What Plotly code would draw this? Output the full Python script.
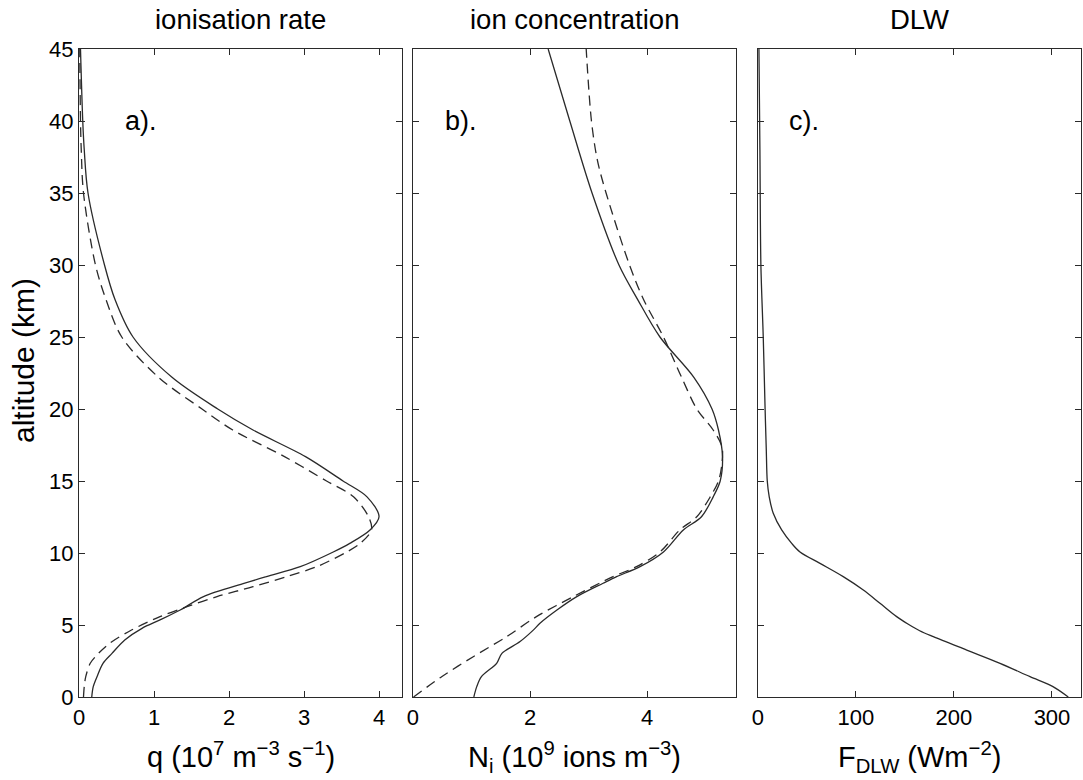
import plotly.graph_objects as go

# ---- Data ----
# Panel a: ionisation rate q (1e7 m^-3 s^-1)
alt_q_solid = [0, 0.72, 1.41, 2.34, 3.03, 3.96, 4.77, 5.35, 6.04, 6.97, 7.9, 8.36, 9.05, 10.07, 10.67, 11.6, 12.52, 13.9, 15.0, 16.69, 18.54, 20, 22.2, 25, 27.6, 30, 35, 38, 40, 45]
q_solid = [0.17, 0.19, 0.24, 0.32, 0.44, 0.61, 0.84, 1.08, 1.35, 1.66, 2.21, 2.50, 2.95, 3.39, 3.61, 3.88, 4.00, 3.84, 3.52, 3.02, 2.32, 1.85, 1.24, 0.72, 0.48, 0.34, 0.12, 0.07, 0.05, 0.02]

alt_q_dash = [0, 0.72, 1.41, 2.34, 3.03, 3.73, 4.65, 5.58, 6.27, 6.97, 7.66, 8.36, 9.05, 10.07, 10.67, 11.6, 12.52, 13.9, 15.0, 16.69, 18.54, 20, 22.2, 25, 27.6, 30, 35, 38, 40, 45]
q_dash = [0.06, 0.07, 0.09, 0.15, 0.26, 0.41, 0.70, 1.08, 1.44, 1.84, 2.32, 2.77, 3.17, 3.57, 3.75, 3.90, 3.86, 3.66, 3.30, 2.74, 2.05, 1.64, 1.06, 0.57, 0.36, 0.22, 0.06, 0.03, 0.02, 0.01]

# Panel b: ion concentration N_i (1e9 ions m^-3)
alt_n_solid = [0, 0.72, 1.41, 2.34, 3.03, 3.85, 4.66, 5.12, 6.04, 6.97, 7.9, 8.36, 9.05, 10.07, 11.6, 12.52, 13.9, 15, 16.69, 18.54, 20, 22.2, 25, 27.6, 30, 35, 40, 45]
n_solid = [1.04, 1.09, 1.17, 1.43, 1.52, 1.83, 2.06, 2.17, 2.46, 2.80, 3.25, 3.48, 3.88, 4.28, 4.62, 4.93, 5.13, 5.25, 5.29, 5.22, 5.11, 4.80, 4.22, 3.84, 3.52, 3.06, 2.68, 2.31]

alt_n_dash = [0, 1.41, 2.80, 4.19, 5.58, 6.97, 8.36, 9.05, 10.07, 11.6, 12.52, 13.9, 15, 16.23, 17.38, 18.54, 20, 22.2, 25, 27.6, 30, 35, 37.3, 40, 45]
n_dash = [0.01, 0.49, 1.03, 1.60, 2.11, 2.74, 3.42, 3.82, 4.22, 4.56, 4.85, 5.08, 5.22, 5.28, 5.28, 5.13, 4.85, 4.59, 4.28, 3.94, 3.70, 3.30, 3.15, 3.05, 2.96]

# Panel c: downward long-wave flux F_DLW (W m^-2)
alt_f = [0, 0.72, 1.41, 2.34, 3.26, 4.19, 4.6, 5.07, 5.58, 6.51, 7.43, 8.36, 9.28, 10.07, 10.67, 11.6, 12.76, 13.9, 15, 17.15, 20, 25, 30, 38, 45]
f_dlw = [316.6, 301, 277.6, 247, 213, 178.9, 165, 153, 141.5, 124.5, 107.5, 87, 63.3, 42.9, 34.4, 24.2, 15.6, 11.5, 9.5, 8.5, 7.3, 5.4, 3, 2, 1]

panel_titles = ["ionisation rate", "ion concentration", "DLW"]
panel_tags = ["a).", "b).", "c)."]
x_titles = ["q (10<sup>7</sup> m<sup>−3</sup> s<sup>−1</sup>)",
            "N<sub>i</sub> (10<sup>9</sup> ions m<sup>−3</sup>)",
            "F<sub>DLW</sub> (Wm<sup>−2</sup>)"]
y_title = "altitude (km)"
y_ticks = [0, 5, 10, 15, 20, 25, 30, 35, 40, 45]
x_ticks = [[0, 1, 2, 3, 4], [0, 2, 4], [0, 100, 200, 300]]
x_ranges = [[0, 4.307], [0, 5.52], [0, 329.6]]
tag_x = [0.587, 0.51, 29.6]

# ---- Styling ----
LINE = "#2a2a2a"
FONT = "Liberation Sans, Arial, sans-serif"
W = 1.3
DASH = "10px,6px"
SM = 0.9

fig = go.Figure()
fig.add_trace(go.Scatter(x=q_solid, y=alt_q_solid, mode="lines", line=dict(color=LINE, width=W, shape="spline", smoothing=SM), xaxis="x", yaxis="y"))
fig.add_trace(go.Scatter(x=q_dash, y=alt_q_dash, mode="lines", line=dict(color=LINE, width=W, dash=DASH, shape="spline", smoothing=SM), xaxis="x", yaxis="y"))
fig.add_trace(go.Scatter(x=n_solid, y=alt_n_solid, mode="lines", line=dict(color=LINE, width=W, shape="spline", smoothing=SM), xaxis="x2", yaxis="y2"))
fig.add_trace(go.Scatter(x=n_dash, y=alt_n_dash, mode="lines", line=dict(color=LINE, width=W, dash=DASH, shape="spline", smoothing=SM), xaxis="x2", yaxis="y2"))
fig.add_trace(go.Scatter(x=f_dlw, y=alt_f, mode="lines", line=dict(color=LINE, width=W, shape="spline", smoothing=SM), xaxis="x3", yaxis="y3"))

domains = [[0, 0.3224], [0.3333, 0.6557], [0.6776, 1.0]]
axcommon = dict(showline=True, linecolor=LINE, linewidth=1.3, mirror="ticks", ticks="inside",
                ticklen=6, tickwidth=1.2, tickcolor=LINE, showgrid=False, zeroline=False,
                automargin=False,
                tickfont=dict(family=FONT, size=22, color="black"))

layout = dict(
    width=1083, height=780,
    margin=dict(l=79, r=2, t=49, b=83),
    paper_bgcolor="white", plot_bgcolor="white",
    showlegend=False,
    font=dict(family=FONT, color="black"),
)
for i in range(3):
    xs = "" if i == 0 else str(i + 1)
    layout["xaxis" + xs] = dict(axcommon, domain=domains[i], range=x_ranges[i], tickvals=x_ticks[i],
                                anchor="y" + xs)
    layout["yaxis" + xs] = dict(axcommon, range=[0, 45], tickvals=y_ticks, anchor="x" + xs,
                                showticklabels=(i == 0))
fig.update_layout(**layout)

ann = []
for i in range(3):
    xs = "" if i == 0 else str(i + 1)
    cx = (domains[i][0] + domains[i][1]) / 2
    ann.append(dict(text=panel_titles[i], xref="paper", yref="paper", x=cx, y=1, xanchor="center",
                    yanchor="bottom", yshift=12, showarrow=False,
                    font=dict(family=FONT, size=27.5, color="black")))
    ann.append(dict(text=x_titles[i], xref="paper", yref="paper", x=cx, y=0, xanchor="center",
                    yanchor="top", yshift=-38, showarrow=False,
                    font=dict(family=FONT, size=29, color="black")))
    ann.append(dict(text=panel_tags[i], xref="x" + xs, yref="y" + xs, x=tag_x[i], y=40,
                    xanchor="left", yanchor="middle", showarrow=False,
                    font=dict(family=FONT, size=27, color="black")))
ann.append(dict(text=y_title, xref="paper", yref="paper", x=0, y=0.5, xshift=-56, textangle=-90,
                xanchor="center", yanchor="middle", yshift=12,
                showarrow=False, font=dict(family=FONT, size=30, color="black")))
fig.update_layout(annotations=ann)

fig.write_html("out.html", config={"displayModeBar": False},
               post_script="document.body.style.margin='0';document.body.style.overflow='hidden';")
